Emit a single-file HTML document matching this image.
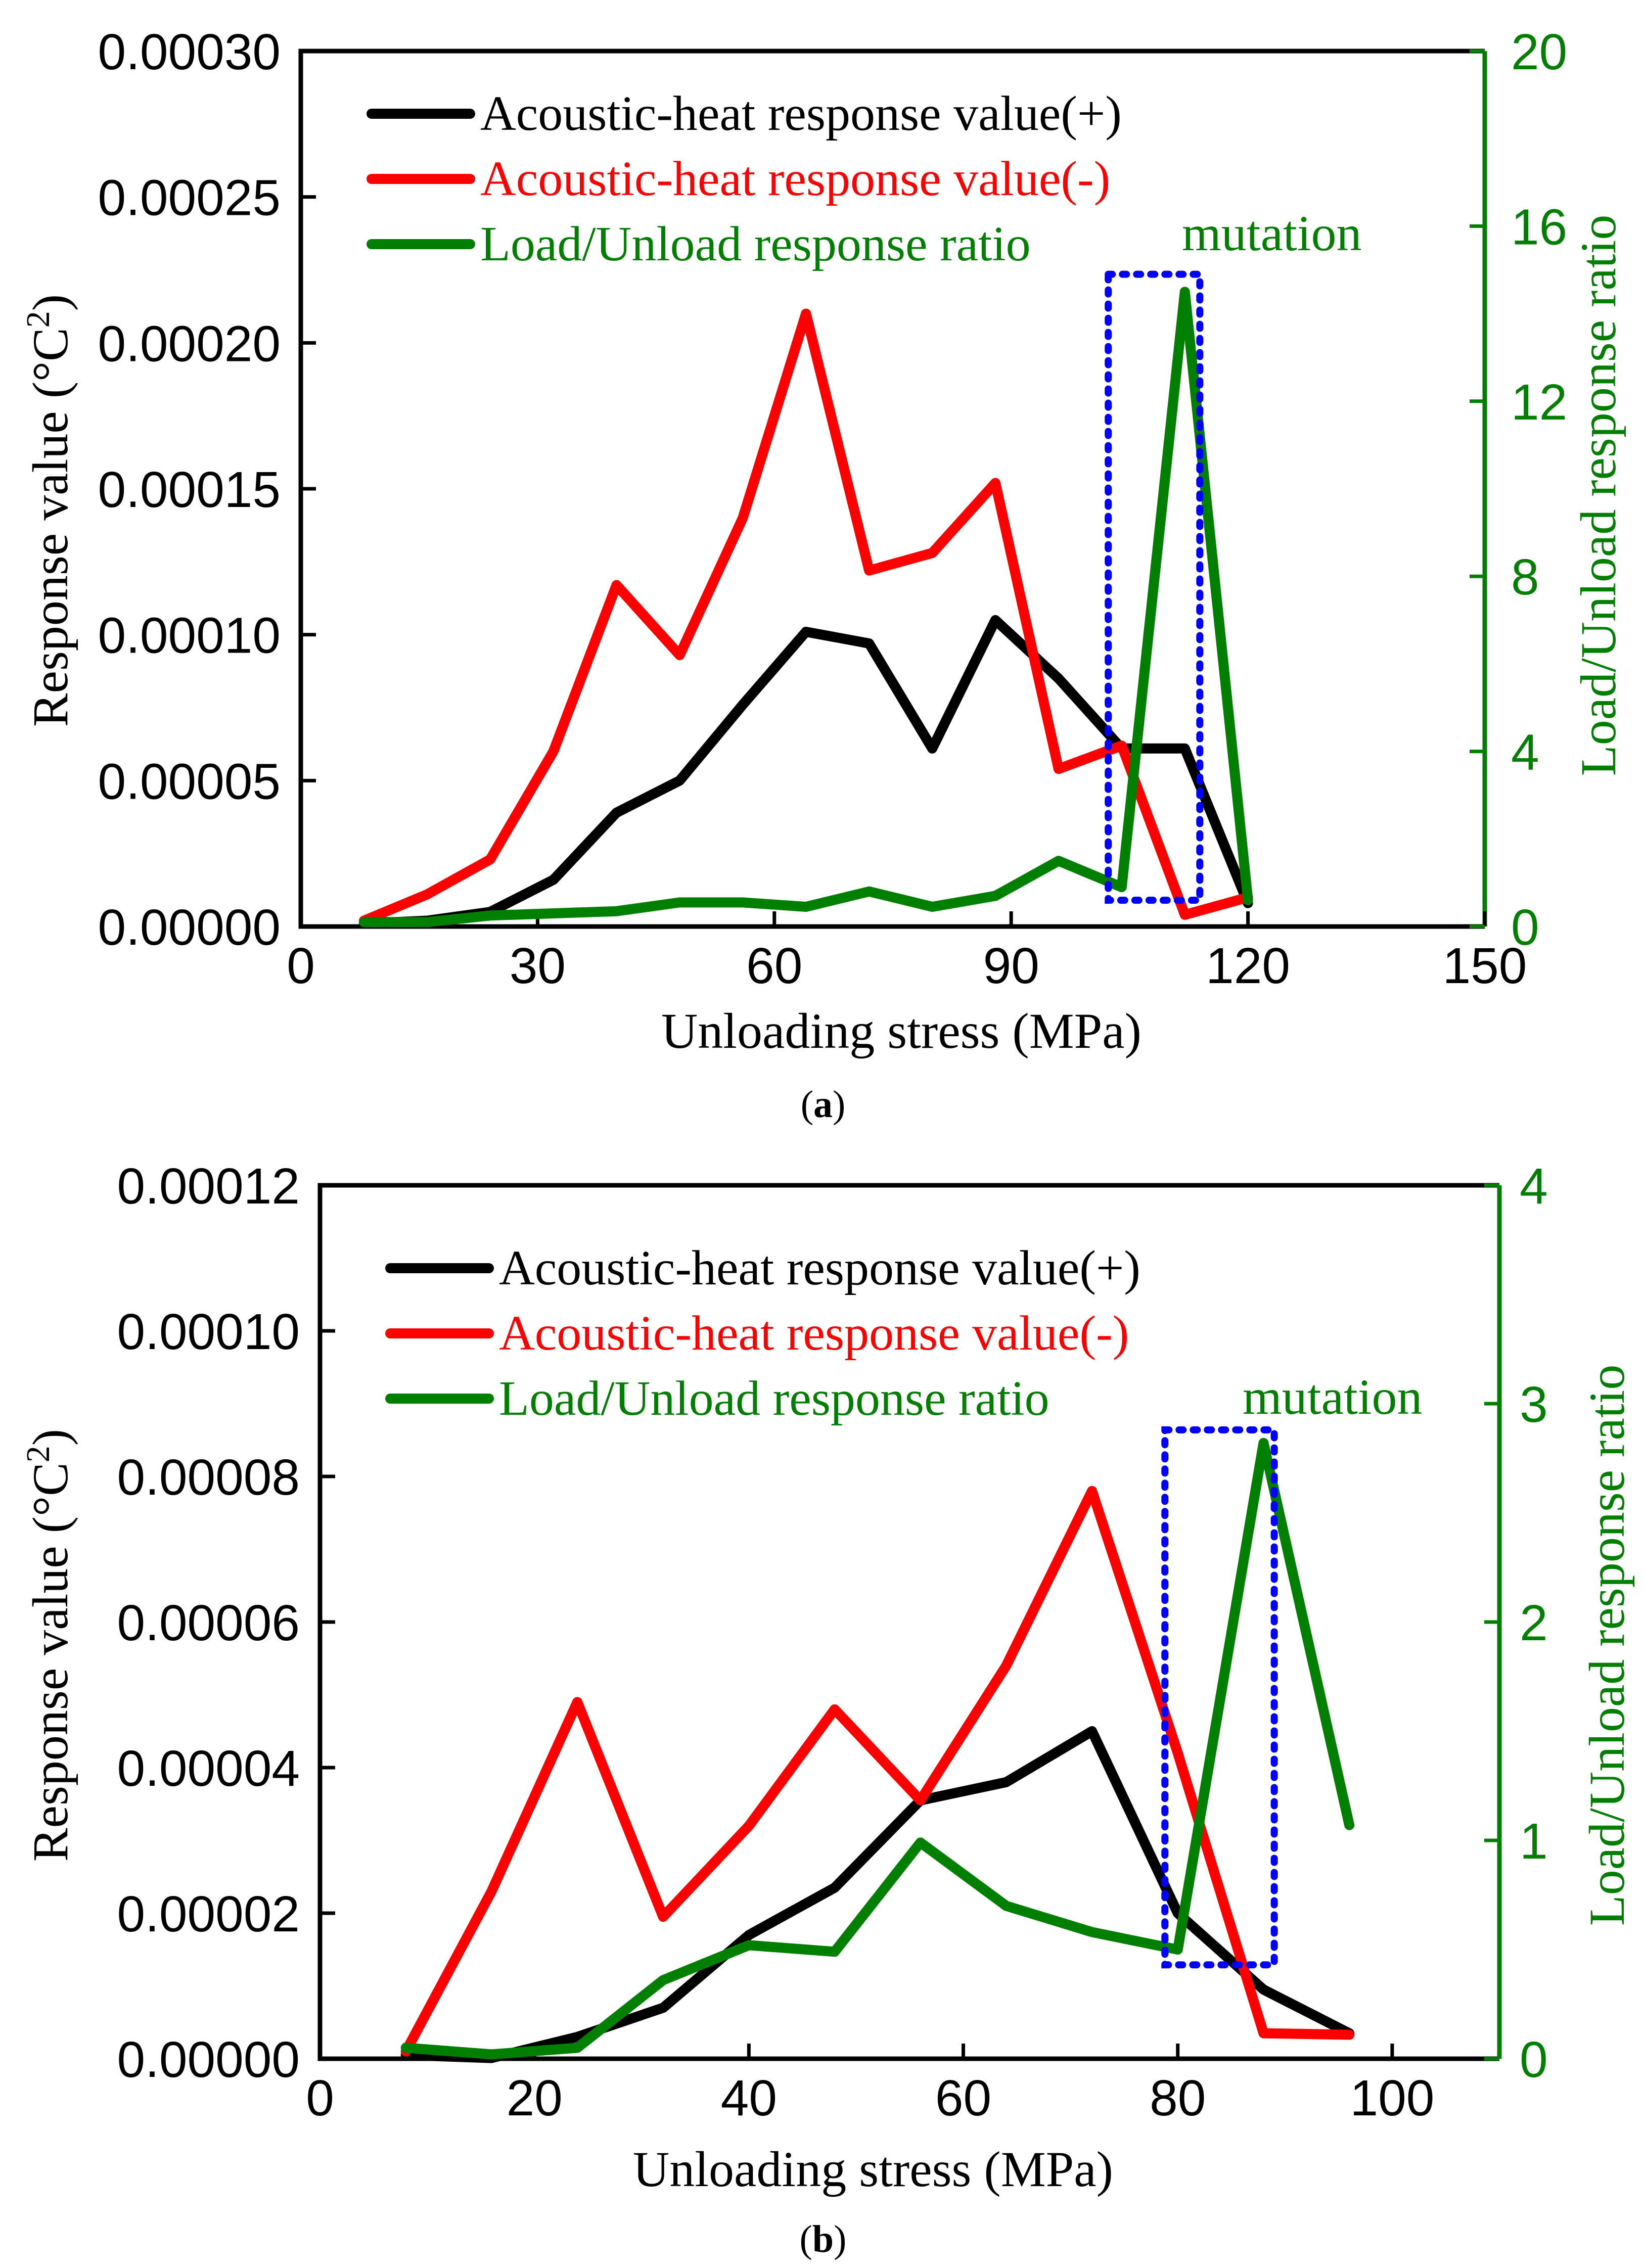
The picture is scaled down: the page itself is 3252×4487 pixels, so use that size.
<!DOCTYPE html>
<html><head><meta charset="utf-8"><style>
html,body{margin:0;padding:0;background:#fff}
svg{display:block}
.tk{font-family:"Liberation Sans",sans-serif;font-size:100px}
.sf{font-family:"Liberation Serif",serif}
</style></head><body>
<svg id="fig" width="3252" height="4487" viewBox="0 0 3252 4487" xmlns="http://www.w3.org/2000/svg"></svg>
<script>
// Panel (a) data
const xA = [8,16,24,32,40,48,56,64,72,80,88,96,104,112,120];
const blackA = [0.000001,0.000002,0.000005,0.000016,0.000039,0.000050,0.000076,0.000101,0.000097,0.000061,0.000105,0.000085,0.000061,0.000061,0.000008];
const redA = [0.000002,0.000011,0.000023,0.000060,0.000117,0.000093,0.000140,0.000210,0.000122,0.000128,0.000152,0.000054,0.000062,0.000004,0.000010];
const greenA = [0.1,0.1,0.25,0.3,0.35,0.55,0.55,0.45,0.8,0.45,0.7,1.5,0.9,14.5,0.6];
const xTicksA = [0,30,60,90,120,150];
const yTicksA = ["0.00000","0.00005","0.00010","0.00015","0.00020","0.00025","0.00030"];
const y2TicksA = [0,4,8,12,16,20];
const boxA = [102.3,113.9,0.6,14.9];
// Panel (b) data
const xB = [8,16,24,32,40,48,56,64,72,80,88,96];
const blackB = [0.0000005,0.0000001,0.000003,0.000007,0.000017,0.0000235,0.0000355,0.000038,0.000045,0.000020,0.0000095,0.0000035];
const redB = [0.000001,0.000023,0.000049,0.0000195,0.000032,0.000048,0.0000355,0.000054,0.000078,0.000042,0.0000035,0.0000033];
const greenB = [0.05,0.02,0.05,0.36,0.52,0.49,0.99,0.70,0.58,0.50,2.82,1.07];
const xTicksB = [0,20,40,60,80,100];
const yTicksB = ["0.00000","0.00002","0.00004","0.00006","0.00008","0.00010","0.00012"];
const y2TicksB = [0,1,2,3,4];
const boxB = [78.8,89.0,0.43,2.88];

const NS="http://www.w3.org/2000/svg";
const svg=document.getElementById('fig');
function mk(tag,attrs,parent,text){const e=document.createElementNS(NS,tag);for(const k in attrs)e.setAttribute(k,attrs[k]);if(text!==undefined)e.textContent=text;(parent||svg).appendChild(e);return e;}

function panel(p){
  const g=mk('g',{});
  
  
  const sx=v=>p.L+(v-p.xmin)/(p.xmax-p.xmin)*(p.R-p.L);
  const sy=v=>p.B-v/p.ymax*(p.B-p.T);
  const sy2=v=>p.B-v/p.y2max*(p.B-p.T);
  const GREEN='#007f00';
  const ax=mk('path',{d:`M${p.R} ${p.T} L${p.L} ${p.T} L${p.L} ${p.B} L${p.R} ${p.B}`,fill:'none',stroke:'#000','stroke-width':9},g);
  
  
  const ax2=mk('line',{x1:p.R,y1:p.T,x2:p.R,y2:p.B,stroke:GREEN,'stroke-width':9},g);
  
  
  p.xTicks.forEach(v=>{
    const x=sx(v);
    mk('line',{x1:x,y1:p.B,x2:x,y2:p.B-30,stroke:'#000','stroke-width':7},g);
    const t=mk('text',{x:x,y:p.B+112,'text-anchor':'middle',class:'tk'},g,String(v));
    
    
  });
  p.yTicks.forEach((s,i)=>{
    const y=sy(parseFloat(s));
    mk('line',{x1:p.L,y1:y,x2:p.L+30,y2:y,stroke:'#000','stroke-width':7},g);
    const t=mk('text',{x:p.L-40,y:y+36,'text-anchor':'end',class:'tk'},g,s);
    
    
  });
  p.y2Ticks.forEach(v=>{
    const y=sy2(v);
    mk('line',{x1:p.R,y1:y,x2:p.R-30,y2:y,stroke:GREEN,'stroke-width':7},g);
    const t=mk('text',{x:p.R+p.y2off,y:y+36,'text-anchor':'start',class:'tk',fill:GREEN},g,String(v));
    
    
  });
  const line=(xs,ys,fn,col,name)=>{
    const d=xs.map((x,i)=>(i?'L':'M')+sx(x).toFixed(1)+' '+fn(ys[i]).toFixed(1)).join(' ');
    const e=mk('path',{d:d,fill:'none',stroke:col,'stroke-width':20,'stroke-linejoin':'round','stroke-linecap':'round'},g);
    
    
  };
  line(p.x,p.black,sy,'#000','series-positive');
  line(p.x,p.red,sy,'#ff0000','series-negative');
  line(p.x,p.green,sy2,GREEN,'series-ratio');
  const bx=mk('rect',{x:sx(p.box[0]),y:sy2(p.box[3]),width:sx(p.box[1])-sx(p.box[0]),height:sy2(p.box[2])-sy2(p.box[3]),fill:'none',stroke:'#0000ff','stroke-width':14,'stroke-dasharray':'8 20','stroke-linecap':'round'},g);
  
  
  const mt=mk('text',{x:p.mut[0],y:p.mut[1],class:'sf','font-size':100,fill:GREEN},g,'mutation');
  
  
  const items=[['#000','Acoustic-heat response value(+)'],['#ff0000','Acoustic-heat response value(-)'],[GREEN,'Load/Unload response ratio']];
  items.forEach((it,i)=>{
    const y=p.leg[1]+i*p.leg[2];
    const l=mk('line',{x1:p.leg[0],y1:y,x2:p.leg[0]+195,y2:y,stroke:it[0],'stroke-width':20,'stroke-linecap':'round'},g);
    
    
    const t=mk('text',{x:p.leg[0]+215,y:y+32,class:'sf','font-size':98,fill:it[0]},g,it[1]);
    
    
  });
  const xt=mk('text',{x:p.xt[0],y:p.xt[1],'text-anchor':'middle',class:'sf','font-size':100},g,'Unloading stress (MPa)');
  
  
  const yt=mk('text',{x:0,y:0,'text-anchor':'middle',class:'sf','font-size':100,transform:`translate(${p.yt[0]},${p.yt[1]}) rotate(-90)`},g);
  
  
  yt.appendChild(document.createTextNode('Response value (°C'));
  mk('tspan',{'font-size':66,dy:-36},yt,'2');
  mk('tspan',{dy:36},yt,')');
  const y2t=mk('text',{x:0,y:0,'text-anchor':'middle',class:'sf','font-size':100,fill:GREEN,transform:`translate(${p.y2t[0]},${p.y2t[1]}) rotate(-90)`},g,'Load/Unload response ratio');
  
  
  const cap=mk('text',{x:p.cap[0],y:p.cap[1],'text-anchor':'middle',class:'sf','font-size':76},g);
  
  
  cap.appendChild(document.createTextNode('('));
  mk('tspan',{'font-weight':'bold'},cap,p.id);
  cap.appendChild(document.createTextNode(')'));
}

panel({id:'a',L:595,R:2937,T:101,B:1833,xmin:0,xmax:150,ymax:0.0003,y2max:20,y2off:52,
  x:xA,black:blackA,red:redA,green:greenA,xTicks:xTicksA,yTicks:yTicksA,y2Ticks:y2TicksA,box:boxA,
  mut:[2338,495],leg:[735,225,129],xt:[1783,2073],yt:[133,1010],y2t:[3195,980],cap:[1628,2210]});
panel({id:'b',L:633,R:2966,T:2345,B:4073,xmin:0,xmax:110,ymax:0.00012,y2max:4,y2off:40,
  x:xB,black:blackB,red:redB,green:greenB,xTicks:xTicksB,yTicks:yTicksB,y2Ticks:y2TicksB,box:boxB,
  mut:[2458,2797],leg:[772,2509,129],xt:[1727,4325],yt:[133,3255],y2t:[3212,3255],cap:[1628,4455]});
</script>
</body></html>
